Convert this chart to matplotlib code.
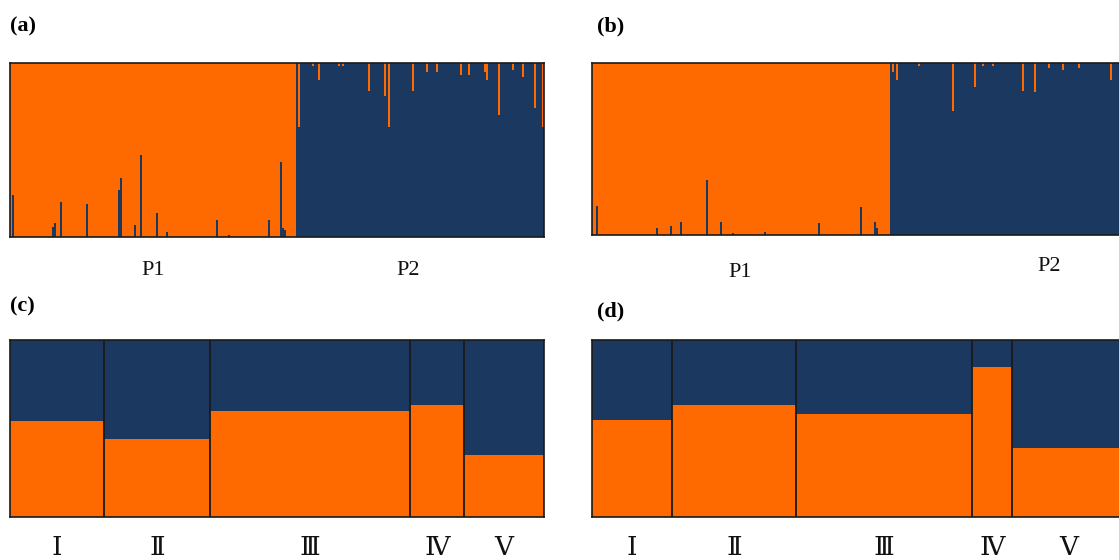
import numpy as np
import matplotlib
matplotlib.use("Agg")
import matplotlib.pyplot as plt

ORANGE = "#FF6A00"
NAVY = "#1B3960"
EDGE = "#1a1a1a"

# ---------------- data ----------------
# (a) K=2, individuals sorted by cluster
a_labels = ["P1", "P2"]
a_sizes = [143, 124]
# P1 individuals: share of the navy cluster (others ~0)
a_p1_minor = {1: 0.24, 21: 0.06, 22: 0.08, 25: 0.20, 38: 0.19, 54: 0.27, 55: 0.34,
              62: 0.07, 65: 0.47, 73: 0.14, 78: 0.03, 103: 0.10, 109: 0.01,
              129: 0.10, 135: 0.43, 136: 0.05, 137: 0.04}
# P2 individuals: share of the orange cluster
a_p2_minor = {1: 0.37, 8: 0.02, 11: 0.10, 21: 0.02, 23: 0.02, 36: 0.16, 44: 0.19,
              46: 0.37, 58: 0.16, 65: 0.05, 70: 0.05, 82: 0.07, 86: 0.07, 94: 0.05,
              95: 0.10, 101: 0.30, 108: 0.04, 113: 0.08, 119: 0.26, 123: 0.37}

# (b)
b_labels = ["P1", "P2"]
b_sizes = [149, 118]
b_p1_minor = {2: 0.17, 32: 0.04, 39: 0.05, 44: 0.075, 57: 0.32, 64: 0.075, 70: 0.01,
              86: 0.02, 113: 0.07, 134: 0.16, 141: 0.075, 142: 0.04}
b_p2_minor = {1: 0.05, 3: 0.10, 14: 0.02, 31: 0.28, 42: 0.14, 46: 0.02, 51: 0.02,
              66: 0.16, 72: 0.17, 79: 0.03, 86: 0.04, 94: 0.03, 110: 0.10}

# (c) and (d): group mean membership
groups = ["Ⅰ", "Ⅱ", "Ⅲ", "Ⅳ", "Ⅴ"]
c_sizes = [47, 53, 100, 27, 40]
c_orange = [0.54, 0.44, 0.60, 0.63, 0.35]
d_sizes = [40, 62, 88, 20, 57]
d_orange = [0.55, 0.63, 0.58, 0.85, 0.39]

# ---------------- layout ----------------
W, H = 1119, 560
fig = plt.figure(figsize=(W / 100, H / 100), dpi=100)


def px_axes(left, top, width, height):
    return fig.add_axes([left / W, 1 - (top + height) / H, width / W, height / H])


def style(ax, n):
    ax.set_xlim(0, n)
    ax.set_ylim(0, 1)
    ax.set_xticks([])
    ax.set_yticks([])
    for s in ax.spines.values():
        s.set_color(EDGE)
        s.set_linewidth(1.2)


def individual_panel(ax, sizes, p1_minor, p2_minor):
    n1, n2 = sizes
    orange = np.concatenate([np.ones(n1), np.zeros(n2)])
    for i, v in p1_minor.items():
        orange[i] = 1 - v
    for i, v in p2_minor.items():
        orange[n1 + i] = v
    navy = 1 - orange
    x = np.arange(n1 + n2) + 0.5
    # majority colour behind each cluster block
    ax.axvspan(0, n1, color=ORANGE, lw=0)
    ax.axvspan(n1, n1 + n2, color=NAVY, lw=0)
    ax.bar(x, navy, width=0.6, color=NAVY, linewidth=0)
    ax.bar(x, orange, bottom=navy, width=0.6, color=ORANGE, linewidth=0)
    style(ax, n1 + n2)


def group_panel(ax, sizes, orange):
    lefts = np.concatenate([[0], np.cumsum(sizes)[:-1]])
    orange = np.array(orange)
    ax.bar(lefts, orange, width=sizes, align="edge", color=ORANGE, linewidth=0)
    ax.bar(lefts, 1 - orange, bottom=orange, width=sizes, align="edge", color=NAVY, linewidth=0)
    for b in lefts[1:]:
        ax.axvline(b, color=EDGE, lw=1.3)
    style(ax, sum(sizes))
    tr = ax.get_xaxis_transform()
    for lab, l, s in zip(groups, lefts, sizes):
        ax.text(l + s / 2, -0.175, lab, transform=tr, ha="center", va="center",
                fontsize=19, family=["DejaVu Serif", "Noto Sans CJK SC"], color="#111111")


ax_a = px_axes(10, 63, 534, 174)
individual_panel(ax_a, a_sizes, a_p1_minor, a_p2_minor)
ax_b = px_axes(592, 63, 534, 172)
individual_panel(ax_b, b_sizes, b_p1_minor, b_p2_minor)

lab_font = dict(fontsize=16, family="Liberation Serif", color="#111111", ha="center", va="center")
tr_a = ax_a.get_xaxis_transform()
ax_a.text(71.5, -0.19, a_labels[0], transform=tr_a, **lab_font)
ax_a.text(199, -0.19, a_labels[1], transform=tr_a, **lab_font)
tr_b = ax_b.get_xaxis_transform()
ax_b.text(74, -0.22, b_labels[0], transform=tr_b, **lab_font)
ax_b.text(228.5, -0.186, b_labels[1], transform=tr_b, **lab_font)

ax_c = px_axes(10, 340, 534, 177)
group_panel(ax_c, c_sizes, c_orange)
ax_d = px_axes(592, 340, 534, 177)
group_panel(ax_d, d_sizes, d_orange)

tag_font = dict(fontsize=16, fontweight="bold", family="Liberation Serif", va="center", ha="left")
fig.text(10 / W, 1 - 26 / H, "(a)", **tag_font)
fig.text(597 / W, 1 - 26 / H, "(b)", **tag_font)
fig.text(10 / W, 1 - 306 / H, "(c)", **tag_font)
fig.text(597 / W, 1 - 311 / H, "(d)", **tag_font)

fig.savefig("out.png", dpi=100)
